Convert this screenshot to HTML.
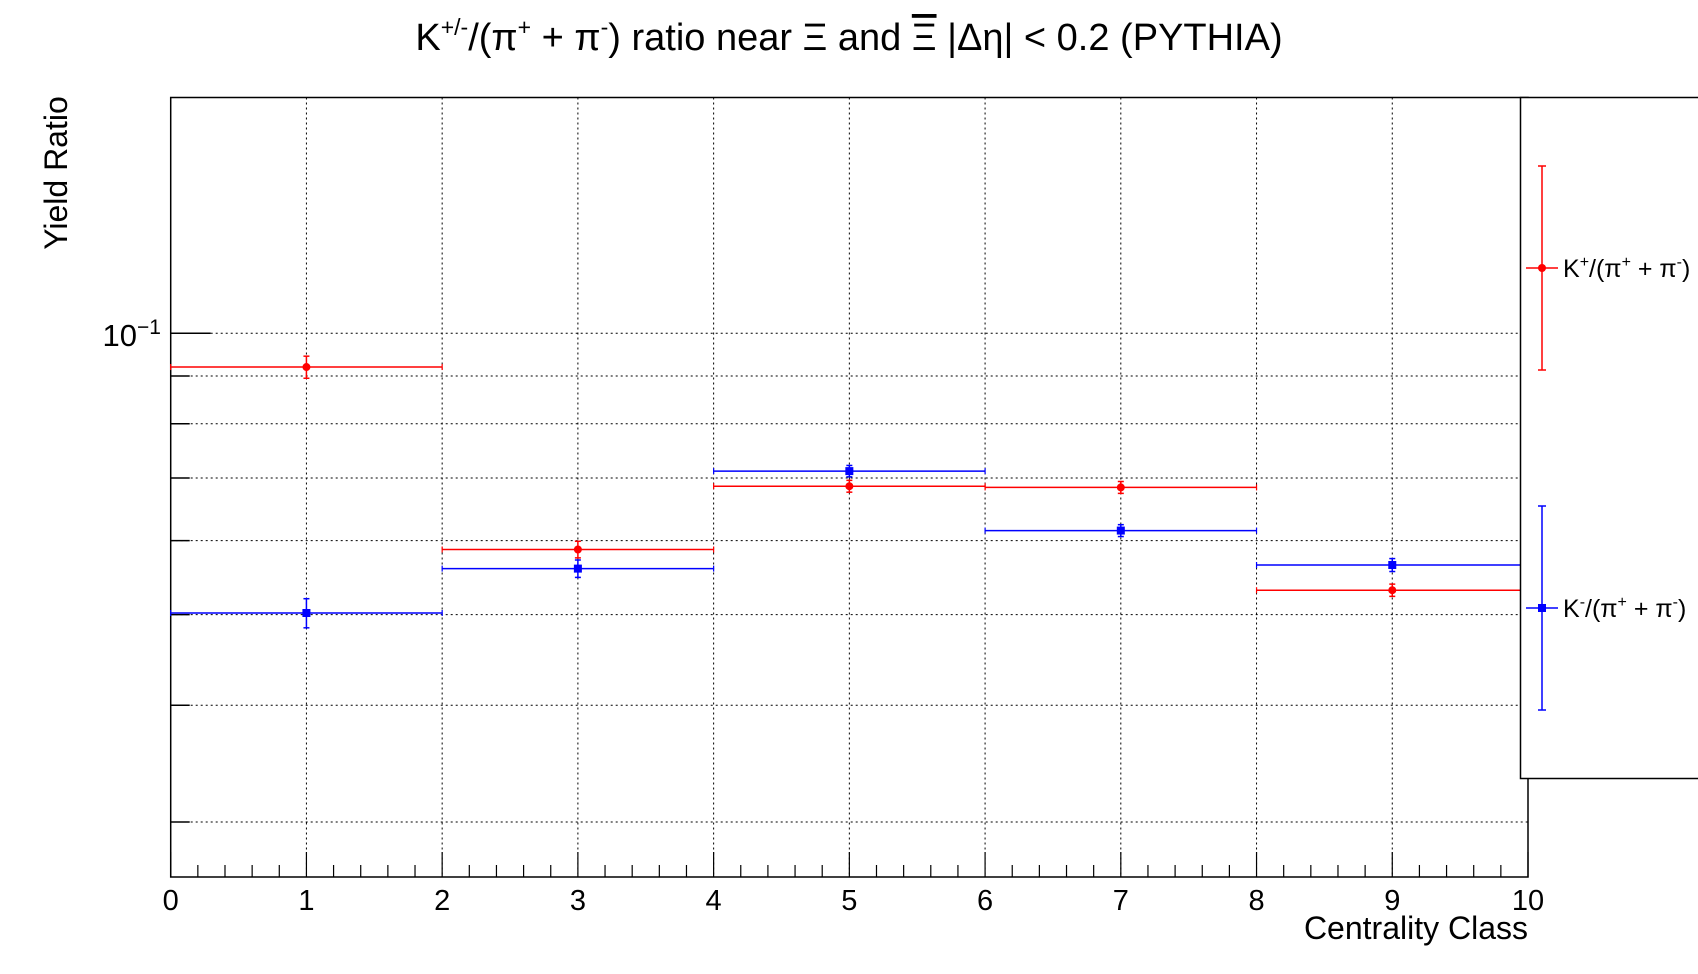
<!DOCTYPE html>
<html><head><meta charset="utf-8"><style>
html,body{margin:0;padding:0;background:#fff;}
svg{display:block;font-family:"Liberation Sans",sans-serif;}
</style></head><body>
<svg id="chart" width="1698" height="974" viewBox="0 0 1698 974" xmlns="http://www.w3.org/2000/svg">
<text x="849" y="50" text-anchor="middle" font-size="38">K<tspan dy="-15" font-size="23">+/-</tspan><tspan dy="15">/(π</tspan><tspan dy="-15" font-size="23">+</tspan><tspan dy="15"> + π</tspan><tspan dy="-15" font-size="23">-</tspan><tspan dy="15">) ratio near Ξ and </tspan><tspan text-decoration="overline">Ξ</tspan><tspan> |Δη| &lt; 0.2 (PYTHIA)</tspan></text>
<g id="grid"></g>
<g id="axes"></g>
<g id="series"></g>
<text x="1528" y="939" text-anchor="end" font-size="32">Centrality Class</text>
<text transform="translate(67,173) rotate(-90)" text-anchor="middle" font-size="32">Yield Ratio</text>
<g>
<rect x="1520.5" y="97.5" width="200" height="681" fill="#fff" stroke="#000" stroke-width="1.5"/>
<g>
<line x1="1542" y1="166" x2="1542" y2="370" stroke="#f00" stroke-width="1.5"/>
<line x1="1538" y1="166" x2="1546" y2="166" stroke="#f00" stroke-width="1.5"/>
<line x1="1538" y1="370" x2="1546" y2="370" stroke="#f00" stroke-width="1.5"/>
<line x1="1526" y1="268" x2="1558" y2="268" stroke="#f00" stroke-width="1.5"/>
<circle cx="1542" cy="268" r="4" fill="#f00"/>
<text x="1563" y="277" font-size="25">K<tspan dy="-10" font-size="16">+</tspan><tspan dy="10">/(π</tspan><tspan dy="-10" font-size="16">+</tspan><tspan dy="10"> + π</tspan><tspan dy="-10" font-size="16">-</tspan><tspan dy="10">)</tspan></text>
</g>
<g>
<line x1="1542" y1="506" x2="1542" y2="710" stroke="#00f" stroke-width="1.5"/>
<line x1="1538" y1="506" x2="1546" y2="506" stroke="#00f" stroke-width="1.5"/>
<line x1="1538" y1="710" x2="1546" y2="710" stroke="#00f" stroke-width="1.5"/>
<line x1="1526" y1="608" x2="1558" y2="608" stroke="#00f" stroke-width="1.5"/>
<rect x="1538" y="604" width="8" height="8" fill="#00f"/>
<text x="1563" y="617" font-size="25">K<tspan dy="-10" font-size="16">-</tspan><tspan dy="10">/(π</tspan><tspan dy="-10" font-size="16">+</tspan><tspan dy="10"> + π</tspan><tspan dy="-10" font-size="16">-</tspan><tspan dy="10">)</tspan></text>
</g>
</g>
</svg>
<script>
const binCenters = [1, 3, 5, 7, 9];
const binHalfWidth = 1;
const kPlusValues = [0.0920, 0.0587, 0.0686, 0.0684, 0.0531];
const kPlusErrors = [0.0025, 0.0012, 0.0010, 0.0010, 0.0008];
const kMinusValues = [0.0502, 0.0560, 0.0712, 0.0615, 0.0565];
const kMinusErrors = [0.0018, 0.0012, 0.0010, 0.0009, 0.0009];
const xTicks = [0,1,2,3,4,5,6,7,8,9,10];
const yGridValues = [0.03,0.04,0.05,0.06,0.07,0.08,0.09,0.1];

const NS = "http://www.w3.org/2000/svg";
const X0 = 170.7, X1 = 1528, Y0 = 97.5, Y1 = 877;
const xMin = 0, xMax = 10, yMin = 0.0262, yMax = 0.1787;
function xs(v){ return X0 + (v - xMin) / (xMax - xMin) * (X1 - X0); }
function ys(v){ return Y1 - (Math.log10(v) - Math.log10(yMin)) / (Math.log10(yMax) - Math.log10(yMin)) * (Y1 - Y0); }
function mk(tag, attrs, parent){ const e = document.createElementNS(NS, tag); for (const k in attrs) e.setAttribute(k, attrs[k]); parent.appendChild(e); return e; }

const grid = document.getElementById('grid');
const axes = document.getElementById('axes');
const series = document.getElementById('series');

xTicks.forEach(t => {
  if (t > xMin && t < xMax) {
    const l = mk('line', {x1: xs(t), x2: xs(t), y1: Y0, y2: Y1, stroke: '#000', 'stroke-width': 1, 'stroke-dasharray': '2,3'}, grid);
    
    
  }
});
yGridValues.forEach(v => {
  const l = mk('line', {x1: X0, x2: X1, y1: ys(v), y2: ys(v), stroke: '#000', 'stroke-width': 1, 'stroke-dasharray': '2,3'}, grid);
  
  
  const major = Math.abs(v - 0.1) < 1e-9;
  const tk = mk('line', {x1: X0, x2: X0 + (major ? 40 : 19), y1: ys(v), y2: ys(v), stroke: '#000', 'stroke-width': 1.5}, axes);
  
  
});

const frame = mk('path', {d: `M${X0},${Y1} L${X0},${Y0} L${X1},${Y0} L${X1},${Y1} Z`, fill: 'none', stroke: '#000', 'stroke-width': 1.5}, axes);



for (let i = 0; i <= 50; i++) {
  const v = i * 0.2;
  const major = i % 5 === 0;
  const tk = mk('line', {x1: xs(v), x2: xs(v), y1: Y1, y2: Y1 - (major ? 25 : 12), stroke: '#000', 'stroke-width': 1.2}, axes);
  
  
}
xTicks.forEach(t => {
  const tx = mk('text', {x: xs(t), y: 910, 'text-anchor': 'middle', 'font-size': 29}, axes);
  tx.textContent = t;
  
  
});
const yl = mk('text', {x: 137, y: ys(0.1) + 13, 'text-anchor': 'end', 'font-size': 31}, axes);
yl.textContent = '10';


const ye = mk('text', {x: 137, y: ys(0.1) + 1, 'font-size': 21}, axes);
ye.textContent = '−1';



function drawSeries(vals, errs, color, square, name){
  vals.forEach((v, i) => {
    const c = binCenters[i];
    const g = mk('g', {}, series);
    
    
    const y = ys(v), x = xs(c);
    mk('line', {x1: xs(c - binHalfWidth), x2: xs(c + binHalfWidth), y1: y, y2: y, stroke: color, 'stroke-width': 1.5}, g);
    mk('line', {x1: xs(c - binHalfWidth), x2: xs(c - binHalfWidth), y1: y - 3, y2: y + 3, stroke: color, 'stroke-width': 1.2}, g);
    mk('line', {x1: xs(c + binHalfWidth), x2: xs(c + binHalfWidth), y1: y - 3, y2: y + 3, stroke: color, 'stroke-width': 1.2}, g);
    const yt = ys(v + errs[i]), yb = ys(v - errs[i]);
    mk('line', {x1: x, x2: x, y1: yt, y2: yb, stroke: color, 'stroke-width': 1.5}, g);
    mk('line', {x1: x - 3, x2: x + 3, y1: yt, y2: yt, stroke: color, 'stroke-width': 1.5}, g);
    mk('line', {x1: x - 3, x2: x + 3, y1: yb, y2: yb, stroke: color, 'stroke-width': 1.5}, g);
    if (square) mk('rect', {x: x - 4, y: y - 4, width: 8, height: 8, fill: color}, g);
    else mk('circle', {cx: x, cy: y, r: 4, fill: color}, g);
  });
}
drawSeries(kPlusValues, kPlusErrors, '#f00', false, 'kplus');
drawSeries(kMinusValues, kMinusErrors, '#00f', true, 'kminus');
</script>
</body></html>
